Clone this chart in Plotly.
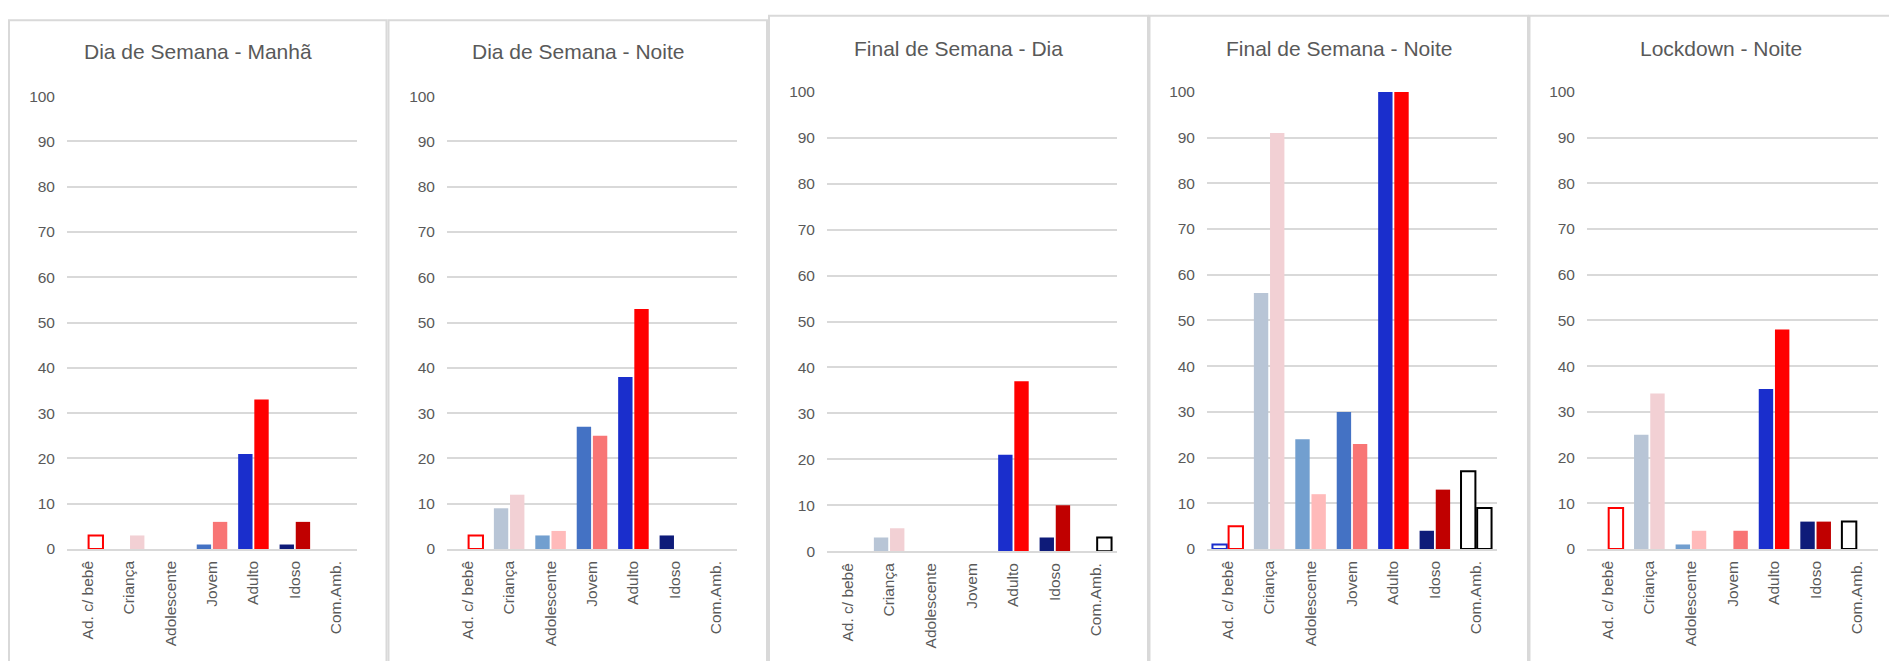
import plotly.graph_objects as go

# ---------------- data ----------------
categories = ["Ad. c/ bebê", "Criança", "Adolescente", "Jovem", "Adulto", "Idoso", "Com.Amb."]
panel_titles = ["Dia de Semana - Manhã", "Dia de Semana - Noite", "Final de Semana - Dia",
                "Final de Semana - Noite", "Lockdown - Noite"]
y_tick_values = [0, 10, 20, 30, 40, 50, 60, 70, 80, 90, 100]

masc_semana_manha = [0, 0, 0, 1, 21, 1, 0]
fem_semana_manha = [3, 3, 0, 6, 33, 6, 0]
masc_semana_noite = [0, 9, 3, 27, 38, 3, 0]
fem_semana_noite = [3, 12, 4, 25, 53, 0, 0]
masc_fds_dia = [0, 3, 0, 0, 21, 3, 0]
fem_fds_dia = [0, 5, 0, 0, 37, 10, 3]
masc_fds_noite = [1, 56, 24, 30, 100, 4, 17]
fem_fds_noite = [5, 91, 12, 23, 100, 13, 9]
masc_lockdown_noite = [0, 25, 1, 0, 35, 6, 6]
fem_lockdown_noite = [9, 34, 4, 4, 48, 6, 0]

masc_series = [masc_semana_manha, masc_semana_noite, masc_fds_dia, masc_fds_noite, masc_lockdown_noite]
fem_series = [fem_semana_manha, fem_semana_noite, fem_fds_dia, fem_fds_noite, fem_lockdown_noite]

# ---------------- styles ----------------
masc_fill = ["white", "#B8C5D6", "#729FCF", "#4472C4", "#1A2ECC", "#0E1B79", "white"]
fem_fill = ["white", "#F2D0D4", "#FFBABA", "#F87575", "#FF0000", "#C00000", "white"]
masc_edge = ["#1A2ECC", "#B8C5D6", "#729FCF", "#4472C4", "#1A2ECC", "#0E1B79", "black"]
fem_edge = ["#FF0000", "#F2D0D4", "#FFBABA", "#F87575", "#FF0000", "#C00000", "black"]
outlined = [True, False, False, False, False, False, True]

W, H = 1889, 661
GRID = "#D9D9D9"
TXT = "#595959"
FONT = "Liberation Sans, Arial"

# plot areas in pixels: (left, right, y at 100, y at 0)
plot_px = [
    (67, 357, 89.4, 554.3),
    (447, 737, 89.4, 554.3),
    (827, 1117, 85.1, 556.5),
    (1207, 1497, 85.1, 554.3),
    (1587, 1878, 85.1, 554.3),
]
# panel boxes in pixels: (left, right, top)
box_px = [
    (9, 386.5, 11.5),
    (388.5, 767, 11.5),
    (769, 1148, 7),
    (1149.5, 1528, 7),
    (1529.5, 1912, 7),
]
title_y_px = [44, 44, 40.5, 40.5, 40.5]

fig = go.Figure()
layout_axes = {}
annotations = []
shapes = []

for i in range(5):
    n = "" if i == 0 else str(i + 1)
    xa, ya = "x" + n, "y" + n
    for vals, fill, edge, name in ((masc_series[i], masc_fill, masc_edge, "Masculino"),
                                   (fem_series[i], fem_fill, fem_edge, "Feminino")):
        widths = [2 if (o and v > 0) else 0 for o, v in zip(outlined, vals)]
        fig.add_trace(go.Bar(
            x=categories, y=vals, name=name, xaxis=xa, yaxis=ya, showlegend=False,
            marker=dict(color=fill, line=dict(color=edge, width=widths)),
        ))
    l, r, t, b = plot_px[i]
    layout_axes["xaxis" + n] = dict(
        domain=[l / W, r / W], anchor=ya, type="category",
        categoryorder="array", categoryarray=categories,
        tickangle=-90, showgrid=False, showline=True, linecolor=GRID, linewidth=1.5,
        ticks="", ticklabelstandoff=4,
        tickfont=dict(family=FONT, size=15.5, color=TXT),
        fixedrange=True,
    )
    layout_axes["yaxis" + n] = dict(
        domain=[1 - b / H, 1 - t / H], anchor=xa, range=[0, 100],
        tickvals=y_tick_values, ticktext=[str(v) for v in y_tick_values],
        showgrid=True, gridcolor=GRID, gridwidth=1.5, zeroline=False,
        showline=False, ticks="", ticklabelstandoff=11,
        tickfont=dict(family=FONT, size=15.5, color=TXT),
        fixedrange=True,
    )
    bl, br, bt = box_px[i]
    shapes.append(dict(type="rect", xref="paper", yref="paper",
                       x0=bl / W, x1=br / W, y0=-0.2, y1=1 - bt / H,
                       line=dict(color=GRID, width=2), fillcolor="rgba(0,0,0,0)", layer="below"))
    annotations.append(dict(text=panel_titles[i], xref="paper", yref="paper",
                            x=(bl + br) / 2 / W, y=1 - title_y_px[i] / H,
                            xanchor="center", yanchor="middle", showarrow=False,
                            font=dict(family=FONT, size=21, color=TXT)))

fig.update_layout(
    width=W, height=H, margin=dict(l=0, r=0, t=0, b=0),
    paper_bgcolor="white", plot_bgcolor="white",
    barmode="group", bargap=0.22, bargroupgap=0.11,
    shapes=shapes, annotations=annotations, **layout_axes,
)

fig.write_html("out.html", config={"displayModeBar": False},
               post_script="document.body.style.margin='0';document.body.style.overflow='hidden';")
